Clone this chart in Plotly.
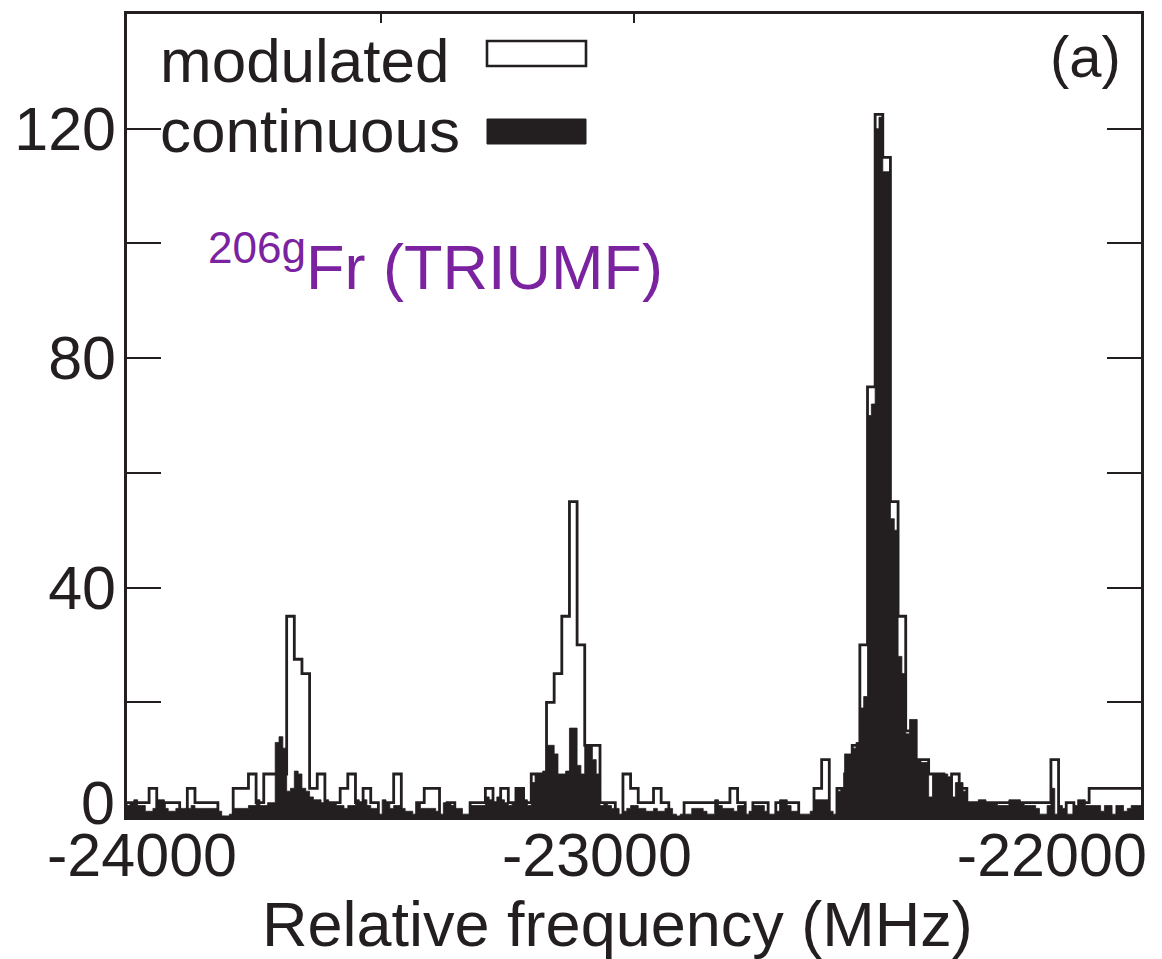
import numpy as np
import plotly.graph_objects as go

# ---------------- data ----------------
BIN_START = -24034.8      # MHz, left edge of first bin
MOD_BIN = 16.8            # MHz, modulated bin width
CONT_BIN = 8.4            # MHz, continuous bin width

modulated = [
    2.5, 2.5, 2.5, 5, 0, 2.5, 2.5, 0, 5, 2.5,
    2.5, 2.5, 0, 0, 5, 5, 7.5, 2.5, 7.5, 7.5,
    7.5, 35, 27.5, 25, 5, 7.5, 2.5, 2.5, 5, 7.5,
    2.5, 5, 2.5, 0, 2.5, 7.5, 0, 0, 2.5, 5,
    5, 0, 2.5, 0, 0, 2.5, 2.5, 5, 2.5, 5,
    2.5, 5, 2.5, 7.5, 7.5, 20, 25, 35, 55, 30,
    12.5, 12.5, 2.5, 2.5, 0, 7.5, 5, 2.5, 2.5, 5,
    2.5, 0, 0, 2.5, 2.5, 2.5, 2.5, 2.5, 2.5, 5,
    2.5, 0, 2.5, 2.5, 0, 2.5, 2.5, 2.5, 0, 0,
    5, 10, 0, 5, 7.5, 12.5, 30, 75, 122.5, 115,
    55, 35, 15, 10, 10, 7.5, 7.5, 2.5, 7.5, 5,
    2.5, 2.5, 2.5, 2.5, 2.5, 2.5, 2.5, 2.5, 2.5, 2.5,
    2.5, 10, 0, 2.5, 0, 2.5, 5, 5, 5, 5,
    5, 5, 5,
]

continuous = [
    2, 2.5, 3, 2, 2, 1, 1, 1.5, 3, 3,
    1.5, 1, 1, 1.5, 1.5, 1.5, 1.5, 2, 1.5, 1.5,
    1.5, 1.5, 1.5, 1.5, 1, 0, 0, 0.5, 1.5, 1.5,
    1.5, 1.5, 2, 2, 3, 2, 2, 2.5, 2.5, 13,
    14, 12, 4.5, 5, 8, 7.5, 5, 4.5, 3.5, 3,
    3, 2.5, 3, 2.5, 2.5, 2, 2, 1.5, 2, 2,
    3, 2.5, 3, 2, 1.5, 1.5, 0.5, 3, 2.5, 1.5,
    2, 2, 1.5, 1, 1, 0.5, 2.5, 1.5, 1.5, 1.5,
    1.5, 1, 0.5, 2.5, 2.5, 2, 1.5, 1.5, 0.5, 0.5,
    2, 2, 2, 2, 3.5, 3, 2.5, 3.5, 3, 2.5,
    2, 2.5, 5, 5, 3, 2, 6, 7.5, 7.5, 8,
    12.5, 12.5, 11, 7.5, 7.5, 8, 15.5, 15.5, 9, 7.5,
    12.5, 12.5, 10, 7.5, 2, 2.5, 2, 1.5, 1.5, 0.5,
    1, 1.5, 2, 2, 1.5, 1.5, 1, 1, 1.5, 1,
    1, 1.5, 1.5, 0.5, 0, 0.5, 0.5, 0.5, 1.5, 1.5,
    1.5, 1, 0.5, 0.5, 3, 2, 1.5, 1.5, 1.5, 1,
    2, 2, 0.5, 1, 2, 2, 2, 1, 0.5, 0.5,
    1, 3, 3, 2, 1, 1, 0.5, 0.5, 0.5, 1,
    3, 3, 3, 3, 1, 0.5, 4.5, 5, 11, 11,
    12, 13, 19, 21, 70, 72, 120, 122, 112.5, 112.5,
    52, 50, 28, 25, 14.5, 17, 17, 10, 9.5, 9.5,
    3.5, 7.5, 7.5, 7.5, 7.5, 7, 3.5, 6, 6, 4.5,
    2.5, 2.5, 2.5, 3, 3, 2.5, 2.5, 2.5, 2, 2,
    2, 3, 3, 3, 2.5, 2, 2, 2, 1.5, 0.5,
    0.5, 2, 5, 0.5, 2, 1.5, 0.5, 0.5, 2, 3,
    3, 2, 2, 2, 2, 1, 2, 2, 0.5, 2,
    2, 1, 1.5, 2, 2, 2,
]

x_range = [-24033, -21804]
y_range = [0, 140]
x_ticks = [-24000, -23000, -22000]
x_ticktext = ["-24000", "-23000", "-22000"]
y_ticks = [40, 80, 120]
y_ticktext = ["40", "80", "120"]
y_minor_ticks = [20, 60, 100]
y_zero_label = "0"
top_minor_ticks = [-23475, -22919]

# ---------------- styling ----------------
INK = "#231f20"
PURPLE = "#7b22a0"
FONT = "Liberation Sans"
W, H = 1162, 959
L, R, T, B = 127, 21, 14, 142
PW, PH = W - L - R, H - T - B


def px(xp):
    return (xp - L) / PW


def py(yp):
    return (H - B - yp) / PH


# step outlines
mod_edges = BIN_START + MOD_BIN * np.arange(len(modulated) + 1)
x_mod = np.concatenate([[mod_edges[0]], mod_edges, [mod_edges[-1]]])
y_mod = [0] + list(modulated) + [modulated[-1], 0]

cont_edges = BIN_START + CONT_BIN * np.arange(len(continuous) + 1)
x_cont = np.concatenate([cont_edges, [cont_edges[-1]]])
y_cont = list(continuous) + [continuous[-1], 0]

fig = go.Figure()
fig.add_trace(go.Scatter(
    x=x_cont, y=y_cont, mode="lines", line=dict(shape="hv", width=0.8, color=INK),
    fill="tozeroy", fillcolor=INK, showlegend=False, hoverinfo="skip",
))
fig.add_trace(go.Scatter(
    x=x_mod, y=y_mod, mode="lines", line=dict(shape="hv", width=2.8, color=INK),
    showlegend=False, hoverinfo="skip",
))
# invisible trace for top minor ticks axis
fig.add_trace(go.Scatter(x=[x_range[0]], y=[0], xaxis="x2", mode="markers",
                         marker=dict(opacity=0), showlegend=False, hoverinfo="skip"))

fig.update_layout(
    width=W, height=H,
    margin=dict(l=L, r=R, t=T, b=B),
    paper_bgcolor="white", plot_bgcolor="white",
    font=dict(family=FONT, color=INK, size=61),
    xaxis=dict(
        range=x_range, tickvals=x_ticks, ticktext=x_ticktext,
        ticks="", showgrid=False, zeroline=False,
        showline=True, linecolor=INK, linewidth=2.6, mirror=True,
        tickfont=dict(size=61, family=FONT, color=INK), ticklabelstandoff=-17,
    ),
    xaxis2=dict(
        range=x_range, overlaying="x", side="top", tickvals=top_minor_ticks,
        ticks="inside", ticklen=9, tickwidth=2, tickcolor=INK,
        showticklabels=False, showgrid=False, zeroline=False, showline=False,
    ),
    yaxis=dict(
        range=y_range, tickvals=y_ticks, ticktext=y_ticktext,
        ticks="inside", ticklen=34, tickwidth=2.2, tickcolor=INK,
        minor=dict(tickvals=y_minor_ticks, ticks="inside", ticklen=34,
                   tickwidth=2.2, tickcolor=INK, showgrid=False),
        showgrid=False, zeroline=False,
        showline=True, linecolor=INK, linewidth=2.6, mirror="ticks",
        tickfont=dict(size=61, family=FONT, color=INK), ticklabelstandoff=-4,
    ),
)

annotations = [
    dict(text=y_zero_label, x=px(117), y=py(803), xanchor="right", yanchor="middle",
         font=dict(size=61, family=FONT, color=INK)),
    dict(text="modulated", x=px(158), y=py(60), xanchor="left", yanchor="middle",
         font=dict(size=62, family=FONT, color=INK)),
    dict(text="continuous", x=px(158), y=py(130), xanchor="left", yanchor="middle",
         font=dict(size=62, family=FONT, color=INK)),
    dict(text="(a)", x=px(1123), y=py(57), xanchor="right", yanchor="middle",
         font=dict(size=58, family=FONT, color=INK)),
    dict(text="<sup>206g</sup>Fr (TRIUMF)", x=px(206), y=py(262), xanchor="left", yanchor="middle",
         font=dict(size=63, family=FONT, color=PURPLE)),
    dict(text="Relative frequency (MHz)", x=px(617), y=py(924), xanchor="center", yanchor="middle",
         font=dict(size=63, family=FONT, color=INK)),
]
for a in annotations:
    a.update(xref="paper", yref="paper", showarrow=False)
fig.update_layout(annotations=annotations)

fig.add_shape(type="rect", xref="paper", yref="paper",
              x0=px(487), x1=px(586), y0=py(66), y1=py(41),
              line=dict(color=INK, width=2.6), fillcolor="white")
fig.add_shape(type="rect", xref="paper", yref="paper",
              x0=px(487), x1=px(586), y0=py(144), y1=py(119),
              line=dict(color=INK, width=1), fillcolor=INK)

fig.write_html("out.html")
